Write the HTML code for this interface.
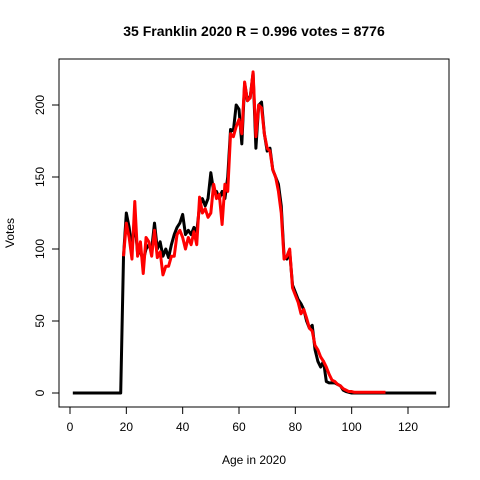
<!DOCTYPE html>
<html><head><meta charset="utf-8"><style>
body{margin:0;background:#fff}
svg{display:block;font-family:"Liberation Sans",Arial,sans-serif}
</style></head><body>
<svg id="chart" width="480" height="480" viewBox="0 0 480 480">
<rect width="480" height="480" fill="#fff"/>
<text x="254" y="36" text-anchor="middle" font-size="14" font-weight="bold">35 Franklin 2020 R = 0.996 votes = 8776</text>
<rect x="59" y="59" width="390" height="348" fill="none" stroke="#000" stroke-width="1"/>
<g id="xaxis"></g>
<g id="yaxis"></g>
<text x="254" y="464" text-anchor="middle" font-size="12">Age in 2020</text>
<text transform="translate(14,233) rotate(-90)" text-anchor="middle" font-size="12">Votes</text>
<g id="series"></g>
</svg>
<script>
const xTicks=[0,20,40,60,80,100,120];
const yTicks=[0,50,100,150,200];
const blackStart=1;
const blackValues=[0,0,0,0,0,0,0,0,0,0,0,0,0,0,0,0,0,0,95,125,115,100,120,97,98,92,100,103,100,118,100,105,95,100,94,103,110,115,118,124,110,113,110,115,112,130,135,130,135,153,140,140,135,140,135,150,183,182,200,197,173,215,203,206,222,170,200,202,180,168,170,155,150,145,130,95,93,98,75,70,65,62,58,50,45,47,30,22,18,22,8,7,7,7,6,5,2,1,0.5,0,0,0,0,0,0,0,0,0,0,0,0,0,0,0,0,0,0,0,0,0,0,0,0,0,0,0,0,0,0,0];
const redStart=19;
const redValues=[95,118,108,93,133,95,105,83,108,105,95,113,94,98,82,88,88,95,95,110,113,108,100,108,103,112,103,136,125,128,122,125,145,135,138,117,145,140,180,178,185,190,180,216,203,205,223,178,200,198,180,170,168,155,150,140,125,93,95,100,73,68,63,55,58,52,45,43,33,30,25,22,18,13,9,8,6,5,3,2,1,1,0.5,0.5,0.5,0.5,0.5,0.5,0.5,0.5,0.5,0.5,0.5,0.5];
const xs=v=>70+v*(408-70)/120;
const ys=v=>393-v*(393-105)/200;
const NS="http://www.w3.org/2000/svg";
function mk(t,a,p){const e=document.createElementNS(NS,t);for(const k in a)e.setAttribute(k,a[k]);p.appendChild(e);return e;}
const xa=document.getElementById('xaxis');
mk('line',{x1:xs(0),x2:xs(120),y1:407,y2:407,stroke:'#000'},xa);
xTicks.forEach(t=>{
  const l=mk('line',{x1:xs(t),x2:xs(t),y1:407,y2:414,stroke:'#000'},xa);
  
  
  const tx=mk('text',{x:xs(t),y:431,'text-anchor':'middle','font-size':12},xa);
  tx.textContent=t;
  
  
});
const ya=document.getElementById('yaxis');
mk('line',{x1:59,x2:59,y1:ys(0),y2:ys(200),stroke:'#000'},ya);
yTicks.forEach(t=>{
  const l=mk('line',{x1:52,x2:59,y1:ys(t),y2:ys(t),stroke:'#000'},ya);
  
  
  const tx=mk('text',{transform:`translate(44,${ys(t)}) rotate(-90)`,'text-anchor':'middle','font-size':12},ya);
  tx.textContent=t;
  
  
});
const sg=document.getElementById('series');
function line(vals,start,color,name){
  const pts=vals.map((v,i)=>xs(start+i).toFixed(2)+','+ys(v).toFixed(2)).join(' ');
  const p=mk('polyline',{points:pts,fill:'none',stroke:color,'stroke-width':3,'stroke-linejoin':'round'},sg);
  
  
}
line(blackValues,blackStart,'#000','actual-votes-line');
line(redValues,redStart,'#f00','predicted-votes-line');
</script>
</body></html>
